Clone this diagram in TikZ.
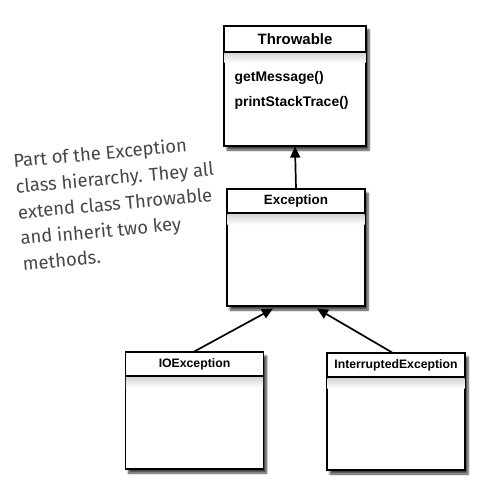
\documentclass[tikz,border=0pt]{standalone}
\usepackage{fontspec}
\setmainfont{Liberation Sans}
\newfontfamily\handfont{Fira Sans}
\usetikzlibrary{arrows.meta,shadows.blur}
\definecolor{notegray}{HTML}{474747}
\begin{document}
\begin{tikzpicture}[x=1bp, y=-1bp, line width=1.2bp,
class node/.style={rectangle,draw,fill=white,inner sep=0pt,minimum width=138bp,minimum height=117bp,blur shadow={shadow xshift=3bp,shadow yshift=-4bp,shadow blur steps=6,shadow opacity=75}},
head node/.style={rectangle,draw,anchor=north,inner sep=0pt,minimum width=138bp,minimum height=24bp,font=\bfseries\fontsize{12.3}{14}\selectfont},
fade/.style={top color=black!16,bottom color=white,draw=none},
ext/.style={-{Triangle[length=11bp,width=10bp]},line width=1.7bp}]
\useasboundingbox (0,0) rectangle (495,485);

% classes
\node [class node, minimum width=142bp, minimum height=120bp] (thr) at (295,86) {};
\shade [fade] ([xshift=1bp,yshift=-1bp]thr.north west |- 0,52) rectangle ([xshift=-1bp,yshift=-11bp]thr.north east |- 0,52);
\node [head node, minimum width=142bp, minimum height=26bp, font=\bfseries\fontsize{15}{18}\selectfont] (thrh) at (thr.north) {Throwable};
\node [anchor=north west, align=left, inner sep=0pt, font=\bfseries\fontsize{14}{25}\selectfont] (thrm) at (234,71) {getMessage()\\printStackTrace()};

\node [class node] (exc) at (296,247.5) {};
\node [head node, font=\bfseries\fontsize{13.5}{16}\selectfont] (exch) at (exc.north) {Exception};
\shade [fade] ([xshift=1bp,yshift=-1bp]exch.south west) rectangle ([xshift=-1bp,yshift=-11bp]exch.south east);

\node [class node] (ioe) at (194.5,410.5) {};
\node [head node] (ioeh) at (ioe.north) {IOException};
\shade [fade] ([xshift=1bp,yshift=-1bp]ioeh.south west) rectangle ([xshift=-1bp,yshift=-11bp]ioeh.south east);

\node [class node] (int) at (396,411.5) {};
\node [head node] (inth) at (int.north) {InterruptedException};
\shade [fade] ([xshift=1bp,yshift=-1bp]inth.south west) rectangle ([xshift=-1bp,yshift=-11bp]inth.south east);

% note
\node [rotate=5.2, align=left, inner sep=0pt, text=notegray, font=\handfont\fontsize{18.5}{26}\selectfont] (note) at (117,203) {Part of the Exception\\class hierarchy. They all\\extend class Throwable\\and inherit two key\\methods.};

% arrows
\coordinate (exc1) at ([xshift=-23bp,yshift=-2bp]exc.south);
\coordinate (exc2) at ([xshift=21bp,yshift=-2bp]exc.south);
\draw [ext] (exc.north) -- (thr.south);
\draw [ext] (ioe.north) -- (exc1);
\draw [ext] ([xshift=-4bp]int.north) -- (exc2);
\end{tikzpicture}
\end{document}
